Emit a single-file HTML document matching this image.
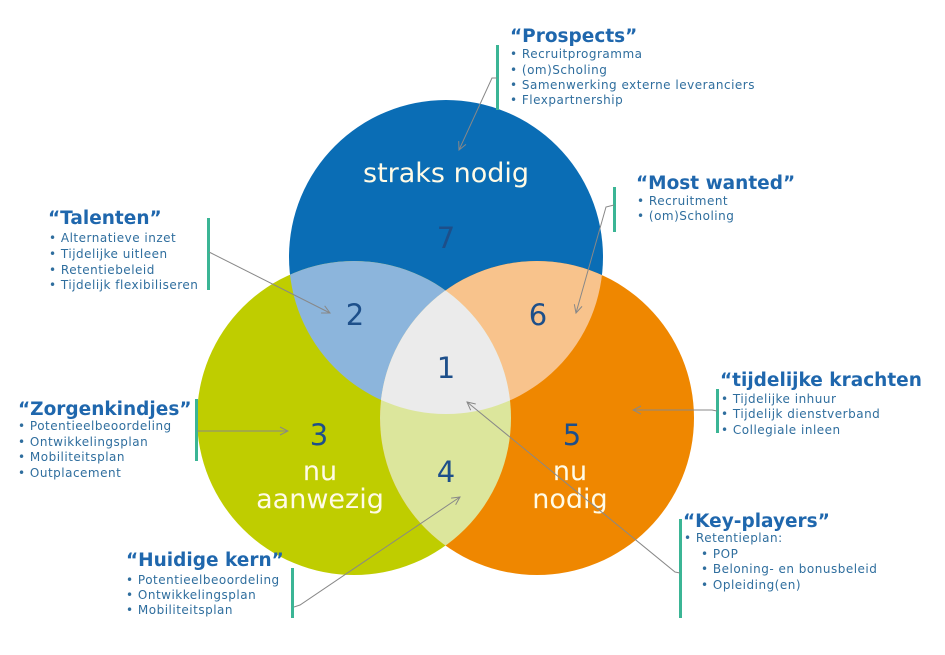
<!DOCTYPE html>
<html><head><meta charset="utf-8"><style>
html,body{margin:0;padding:0;background:#fff;}
svg{display:block;}
.t{font-family:"DejaVu Sans","Liberation Sans",sans-serif;font-weight:bold;font-size:18.5px;fill:#1f67ad;}
.i{font-family:"DejaVu Sans","Liberation Sans",sans-serif;font-size:12px;letter-spacing:0.5px;fill:#2f6e9e;}
.w{font-family:"DejaVu Sans","Liberation Sans",sans-serif;font-size:27px;fill:#fffbe6;text-anchor:middle;}
.n{font-family:"DejaVu Sans","Liberation Sans",sans-serif;font-size:29px;fill:#1d4f8a;text-anchor:middle;}
.bar{fill:#3bb595;}
.a{stroke:#888;stroke-width:1;fill:none;}
</style></head><body>
<svg width="945" height="655" viewBox="0 0 945 655" xmlns="http://www.w3.org/2000/svg">
<defs>
<clipPath id="cb"><circle cx="446" cy="257" r="157"/></clipPath>
<clipPath id="cg"><circle cx="354" cy="418" r="157"/></clipPath>
<clipPath id="co"><circle cx="537" cy="418" r="157"/></clipPath>
<marker id="ar" markerWidth="10" markerHeight="10" refX="9" refY="5" orient="auto" markerUnits="userSpaceOnUse"><path d="M1,1 L9,5 L1,9" fill="none" stroke="#888" stroke-width="1"/></marker>
</defs>
<circle cx="446" cy="257" r="157" fill="#0a6db5"/>
<circle cx="354" cy="418" r="157" fill="#bfcd00"/>
<circle cx="537" cy="418" r="157" fill="#ef8700"/>
<circle cx="354" cy="418" r="157" fill="#8cb5dc" clip-path="url(#cb)"/>
<circle cx="537" cy="418" r="157" fill="#f8c38c" clip-path="url(#cb)"/>
<circle cx="537" cy="418" r="157" fill="#dce69c" clip-path="url(#cg)"/>
<g clip-path="url(#cb)"><circle cx="354" cy="418" r="157" fill="#ebebeb" clip-path="url(#co)"/></g>

<text class="w" x="446" y="182">straks nodig</text>
<text class="n" x="446" y="248">7</text>
<text class="n" x="355" y="325">2</text>
<text class="n" x="538" y="325">6</text>
<text class="n" x="446" y="378">1</text>
<text class="n" x="319" y="445">3</text>
<text class="n" x="446" y="482">4</text>
<text class="n" x="572" y="445">5</text>
<text class="w" x="320" y="480">nu</text>
<text class="w" x="320" y="508">aanwezig</text>
<text class="w" x="570" y="480">nu</text>
<text class="w" x="570" y="508">nodig</text>

<!-- Prospects -->
<rect class="bar" x="496" y="45" width="3" height="65"/>
<text class="t" x="510" y="42">“Prospects”</text>
<text class="i" x="510" y="58">•  Recruitprogramma</text>
<text class="i" x="510" y="74">•  (om)Scholing</text>
<text class="i" x="510" y="89">•  Samenwerking externe leveranciers</text>
<text class="i" x="510" y="104">•  Flexpartnership</text>
<path class="a" d="M497,78 L492,78 L459,150" marker-end="url(#ar)"/>

<!-- Most wanted -->
<rect class="bar" x="613" y="187" width="3" height="45"/>
<text class="t" x="636" y="189">“Most wanted”</text>
<text class="i" x="637" y="205">• Recruitment</text>
<text class="i" x="637" y="220">• (om)Scholing</text>
<path class="a" d="M614,205 L606,207 L576,313" marker-end="url(#ar)"/>

<!-- Talenten -->
<rect class="bar" x="207" y="218" width="3" height="72"/>
<text class="t" x="48" y="224">“Talenten”</text>
<text class="i" x="49" y="242">• Alternatieve inzet</text>
<text class="i" x="49" y="258">• Tijdelijke uitleen</text>
<text class="i" x="49" y="274">• Retentiebeleid</text>
<text class="i" x="49" y="289">• Tijdelijk flexibiliseren</text>
<path class="a" d="M209,252 L330,313" marker-end="url(#ar)"/>

<!-- Zorgenkindjes -->
<rect class="bar" x="195" y="399" width="3" height="62"/>
<text class="t" x="18" y="415">“Zorgenkindjes”</text>
<text class="i" x="18" y="430">• Potentieelbeoordeling</text>
<text class="i" x="18" y="446">• Ontwikkelingsplan</text>
<text class="i" x="18" y="461">• Mobiliteitsplan</text>
<text class="i" x="18" y="477">• Outplacement</text>
<path class="a" d="M197,431 L288,431" marker-end="url(#ar)"/>

<!-- Huidige kern -->
<rect class="bar" x="291" y="568" width="3" height="50"/>
<text class="t" x="126" y="566">“Huidige kern”</text>
<text class="i" x="126" y="584">• Potentieelbeoordeling</text>
<text class="i" x="126" y="599">• Ontwikkelingsplan</text>
<text class="i" x="126" y="614">• Mobiliteitsplan</text>
<path class="a" d="M294,607 L300,605 L460,497" marker-end="url(#ar)"/>

<!-- tijdelijke krachten -->
<rect class="bar" x="716" y="389" width="3" height="44"/>
<text class="t" x="720" y="386">“tijdelijke krachten</text>
<text class="i" x="721" y="403">• Tijdelijke inhuur</text>
<text class="i" x="721" y="418">• Tijdelijk dienstverband</text>
<text class="i" x="721" y="434">• Collegiale inleen</text>
<path class="a" d="M717,411 L712,410 L633,410" marker-end="url(#ar)"/>

<!-- Key-players -->
<rect class="bar" x="679" y="519" width="3" height="99"/>
<text class="t" x="683" y="527">“Key-players”</text>
<text class="i" x="684" y="542">• Retentieplan:</text>
<text class="i" x="701" y="558">• POP</text>
<text class="i" x="701" y="573">• Beloning-  en bonusbeleid</text>
<text class="i" x="701" y="589">•   Opleiding(en)</text>
<path class="a" d="M680,573 L675,572 L467,402" marker-end="url(#ar)"/>
</svg>
</body></html>
